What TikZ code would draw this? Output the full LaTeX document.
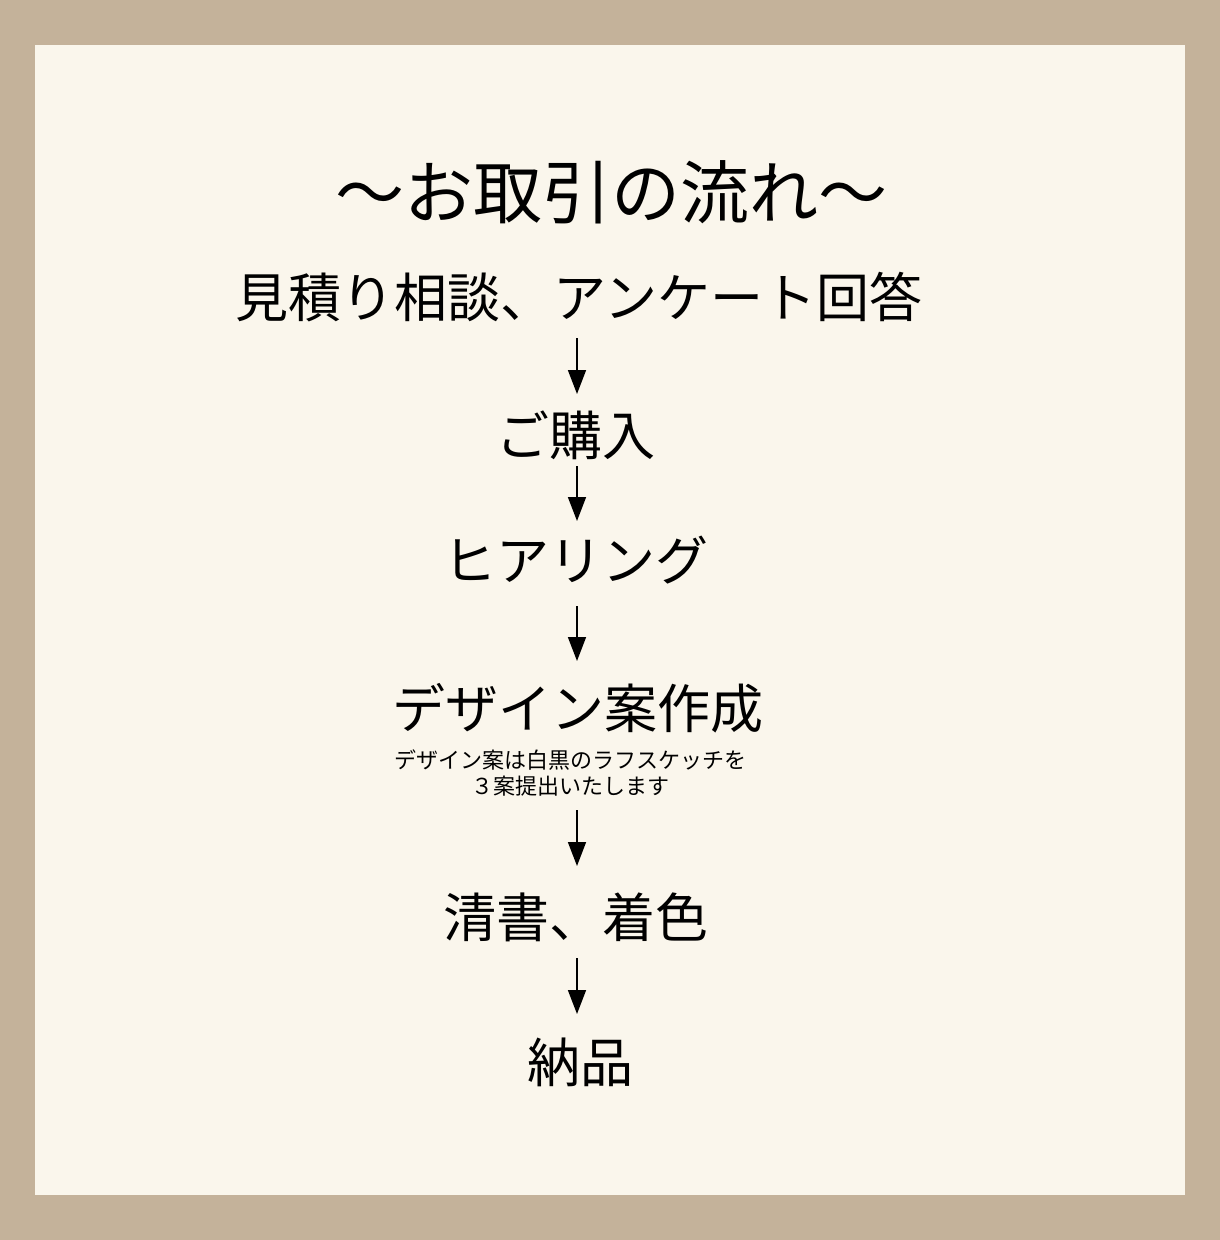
\documentclass[tikz,border=0pt]{standalone}
\usepackage{fontspec}
\setmainfont{Noto Sans CJK JP}
\usetikzlibrary{arrows.meta}
\definecolor{frame}{HTML}{C4B29A}
\definecolor{paper}{HTML}{FAF6EC}
\begin{document}
\begin{tikzpicture}[x=1pt,y=-1pt,
  big/.style={inner sep=0pt,font=\fontsize{53}{60}\selectfont},
  small/.style={inner sep=0pt,align=center,font=\fontsize{22}{26}\selectfont},
  flow/.style={line width=1.6pt,-{Triangle[width=18pt,length=24pt]}}]
\useasboundingbox (0,0) rectangle (1220,1240);
\fill[frame] (0,0) rectangle (1220,1240);
\fill[paper] (35,45) rectangle (1185,1195);
\node[inner sep=0pt,font=\fontsize{69}{72}\selectfont] (title) at (611,192) {～お取引の流れ～};
\node[big] (s1) at (579,297) {見積り相談、アンケート回答};
\node[big] (s2) at (576,435) {ご購入};
\node[big] (s3) at (576,560) {ヒアリング};
\node[big] (s4) at (578,708) {デザイン案作成};
\node[small] (note) at (570,773) {デザイン案は白黒のラフスケッチを\\３案提出いたします};
\node[big] (s5) at (576,917) {清書、着色};
\node[big] (s6) at (580,1062) {納品};
\coordinate (a1s) at (577,338); \coordinate (a1e) at (577,394);
\coordinate (a2s) at (577,466); \coordinate (a2e) at (577,521);
\coordinate (a3s) at (577,606); \coordinate (a3e) at (577,661);
\coordinate (a4s) at (577,810); \coordinate (a4e) at (577,866);
\coordinate (a5s) at (577,958); \coordinate (a5e) at (577,1014);
\draw[flow] (a1s) -- (a1e);
\draw[flow] (a2s) -- (a2e);
\draw[flow] (a3s) -- (a3e);
\draw[flow] (a4s) -- (a4e);
\draw[flow] (a5s) -- (a5e);
\end{tikzpicture}
\end{document}
